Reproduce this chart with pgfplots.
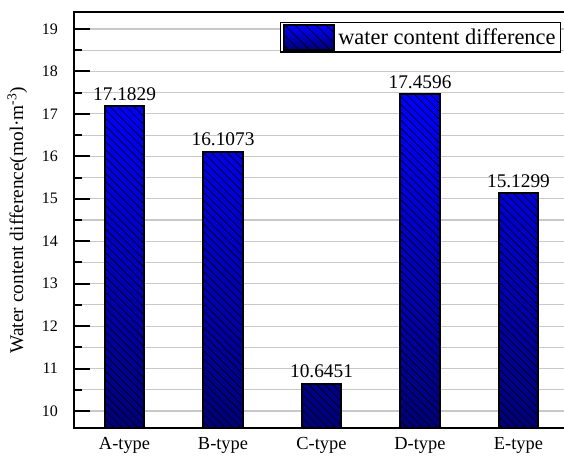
\documentclass[border=0pt]{standalone}
\usepackage{pgfplots}
\pgfplotsset{compat=1.18}
\usepackage{fontspec}
\setmainfont{Liberation Serif}
\usetikzlibrary{patterns.meta}

\definecolor{barTop}{RGB}{0,0,255}
\definecolor{barBottom}{RGB}{0,0,120}
\definecolor{gridGray}{RGB}{200,200,200}

\begin{document}
\begin{tikzpicture}
\begin{axis}[
  scale only axis,
  width=367.5pt, height=312pt,
  xmin=-0.513, xmax=4.462,
  ymin=9.6, ymax=19.4,
  axis x line*=bottom,
  axis y line*=left,
  axis line style={line width=2.2pt, line cap=rect},
  tick align=inside,
  xtick={0,1,2,3,4},
  xticklabels={A-type,B-type,C-type,D-type,E-type},
  x tick style={draw=none},
  xticklabel style={font=\fontsize{13.8}{16}\selectfont, yshift=-3.8pt},
  ytick={10,11,...,19},
  minor y tick num=1,
  major tick length=12pt,
  minor tick length=6pt,
  y tick style={line width=1.5pt, black},
  yticklabel style={font=\fontsize{12}{14}\selectfont, xshift=-8.5pt},
  /pgf/number format/assume math mode=true,
  ymajorgrids, yminorgrids,
  major grid style={gridGray, line width=0.8pt},
  minor grid style={gridGray, line width=0.8pt},
  every axis y label/.style={at={(axis description cs:0,0.5)}, xshift=-42.5pt,
    anchor=center, rotate=90, font=\fontsize{14.5}{16}\selectfont},
  ylabel={Water content difference(mol·m\textsuperscript{-3})},
  legend style={at={(1,1)}, anchor=north east, xshift=-2.25pt, yshift=-7.5pt,
    draw=black, line width=0.8pt, inner xsep=1.5pt, inner ysep=1.2pt,
    font=\fontsize{16.8}{18}\selectfont,
    nodes={inner sep=2.2pt}},
  every axis plot post/.append style={
    legend image code/.code={
      \path[preaction={top color=barTop, bottom color=barBottom},
            pattern={Lines[angle=-45, distance=5.5pt, line width=0.5pt]},
            draw=black, line width=1.3pt]
        (0pt,-9.2pt) rectangle (38pt,9.2pt);}},
  every node near coord/.style={black, font=\fontsize{14.5}{16}\selectfont,
    inner sep=3.5pt, anchor=south},
]
\addplot[ybar, bar width=0.4, draw=black, line width=1.5pt,
  preaction={top color=barTop, bottom color=barBottom},
  pattern={Lines[angle=-45, distance=4.2pt, line width=0.45pt]},
  nodes near coords, point meta=explicit symbolic]
  coordinates {
    (0,17.1829) [17.1829]
    (1,16.1073) [16.1073]
    (2,10.6451) [10.6451]
    (3,17.4596) [17.4596]
    (4,15.1299) [15.1299]
  };
\addlegendentry{water content difference}
\draw[line width=2.2pt, line cap=rect] (rel axis cs:0,1) -- (rel axis cs:1,1);
\end{axis}
\pgfresetboundingbox
\path ([xshift=-55.5pt, yshift=-21pt]current axis.south west)
  rectangle ([yshift=9pt]current axis.north east);
\end{tikzpicture}
\end{document}
